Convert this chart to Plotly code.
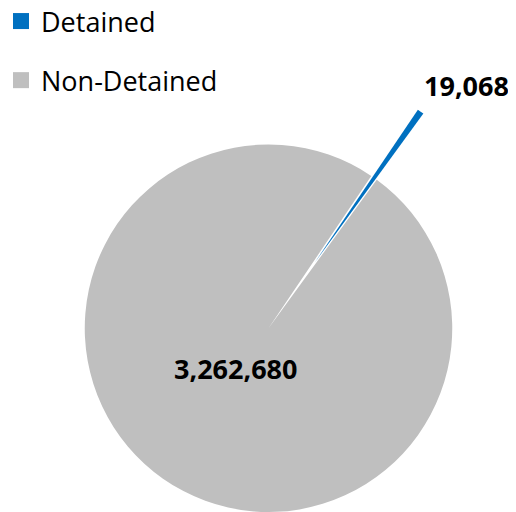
import math
import plotly.graph_objects as go

# ---- data ----
labels = ["Detained", "Non-Detained"]
values = [19068, 3262680]
colors = ["#0070C0", "#BFBFBF"]

# ---- geometry / style ----
OFF = 8                               # page body margin of the html page
W, H = 516 - OFF, 512 - OFF           # figure size so the page fits the window
CX, CY, R = 268.5 - OFF, 328.5 - OFF, 184.0   # pie centre (figure px from top-left), radius
PULL = 0.44                           # pull-out of the Detained slice (fraction of R)
ROT = 34                              # start angle of first slice, clockwise from 12 o'clock
FONT = "Open Sans, Noto Sans, sans-serif"
TRANSPARENT = "rgba(0,0,0,0)"

total = sum(values)
det_mid = math.radians(ROT + values[0] / total * 180.0)
non_mid = det_mid + math.pi
shift = PULL * R
SX = CX + shift * math.sin(det_mid)
SY = CY - shift * math.cos(det_mid)


def domain(cx, cy):
    x0, x1 = (cx - R) / W, (cx + R) / W
    y0, y1 = (H - cy - R) / H, (H - cy + R) / H
    return dict(x=[max(0, x0), min(1, x1)], y=[max(0, y0), min(1, y1)])


def to_paper(px, py):
    return px / W, 1 - py / H


fig = go.Figure()

# main (non-pulled) pie: Non-Detained slice, gap left where Detained was
fig.add_trace(go.Pie(
    labels=labels, values=values, sort=False, direction="clockwise", rotation=ROT,
    marker=dict(colors=[TRANSPARENT, colors[1]], line=dict(width=0)),
    textinfo="none", domain=domain(CX, CY), showlegend=False, hoverinfo="skip",
))

# pulled-out Detained slice
fig.add_trace(go.Pie(
    labels=labels, values=values, sort=False, direction="clockwise", rotation=ROT,
    marker=dict(colors=[colors[0], TRANSPARENT], line=dict(width=0)),
    textinfo="none", domain=domain(SX, SY), showlegend=False, hoverinfo="skip",
))

# data labels
lab_font = dict(family=FONT, size=27, color="black", weight="bold")
rin = 0.3 * R
nx, ny = to_paper(CX + rin * math.sin(non_mid) - 1, CY - rin * math.cos(non_mid) - 5)
fig.add_annotation(x=nx, y=ny, xref="paper", yref="paper", text=f"{values[1]:,}",
                   showarrow=False, xanchor="center", yanchor="middle", font=lab_font)
tip = (1 + PULL) * R
tx, ty = to_paper(CX + tip * math.sin(det_mid) + 1, CY - tip * math.cos(det_mid) - 6)
fig.add_annotation(x=tx, y=ty, xref="paper", yref="paper", text=f"{values[0]:,}",
                   showarrow=False, xanchor="left", yanchor="bottom", font=lab_font)

# legend entries
for lab, col in zip(labels, colors):
    fig.add_trace(go.Scatter(
        x=[None], y=[None], mode="markers", name=lab, legendgroup=lab,
        marker=dict(symbol="square", size=18, color=col),
    ))

fig.update_layout(
    width=W, height=H, margin=dict(l=0, r=0, t=0, b=0, autoexpand=False),
    paper_bgcolor="white", plot_bgcolor="white",
    xaxis=dict(visible=False), yaxis=dict(visible=False),
    showlegend=True,
    legend=dict(x=-7 / W, y=1 + 11 / H, xanchor="left", yanchor="top",
                font=dict(family=FONT, size=27, color="black"),
                traceorder="grouped", tracegroupgap=21, bgcolor="rgba(0,0,0,0)"),
)

fig.write_html("out.html")
